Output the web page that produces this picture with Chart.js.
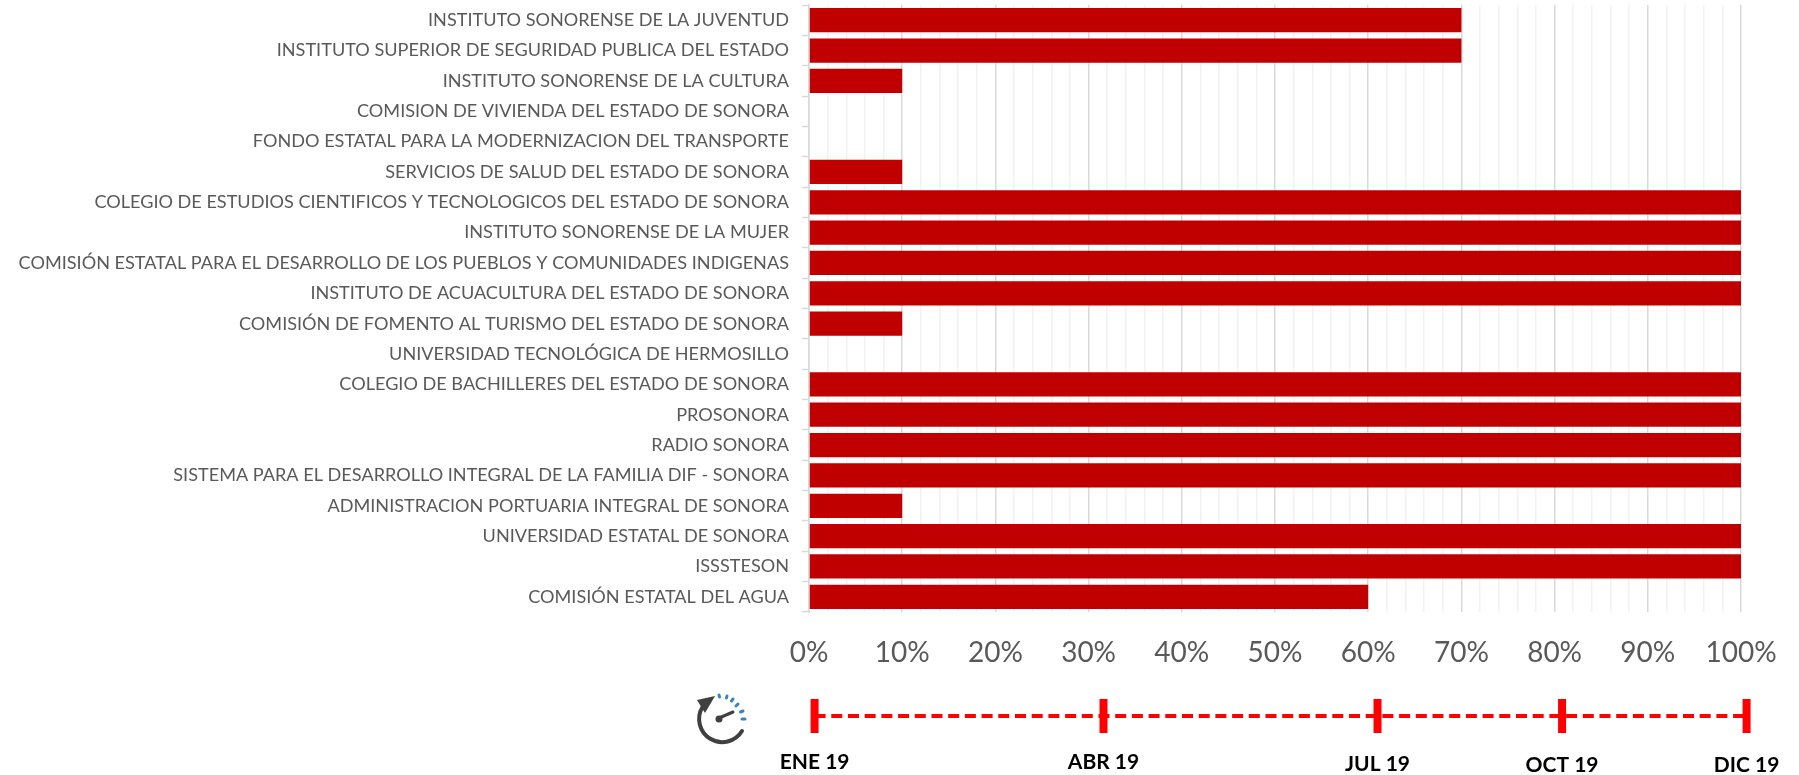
<!DOCTYPE html>
<html><head><meta charset="utf-8">
<style>
html,body{margin:0;padding:0;background:#fff;width:1799px;height:775px;overflow:hidden}
#wrap{position:relative;width:1799px;height:775px}
canvas{position:absolute;left:0;top:0}
svg{position:absolute;left:692px;top:686px}
</style>
<script src="https://cdn.jsdelivr.net/npm/chart.js@4"></script>
</head><body>
<div id="wrap">
<canvas id="main" width="1799" height="775"></canvas>
<canvas id="timeline" width="1799" height="775"></canvas>
<svg width="64" height="64" viewBox="0 0 64 64" role="img" aria-label="icono de tiempo">
  <path d="M10.5 21 A23 23 0 1 0 50 45" fill="none" stroke="#404040" stroke-width="4" stroke-linecap="round"/>
  <path d="M5 14 L23 10 L13 27 Z" fill="#404040"/>
  <g stroke="#3b82c4" stroke-width="3" stroke-linecap="round" fill="none">
    <path d="M27 9 L27.5 11"/><path d="M35 10 L34.5 12"/><path d="M41 13 L39.5 15"/><path d="M46 18 L44 20"/><path d="M51 25 L48.5 26"/><path d="M53 33 L50 33"/>
  </g>
  <path d="M27 32 L41 26" stroke="#404040" stroke-width="3" stroke-linecap="round"/>
  <circle cx="27" cy="33" r="3.5" fill="#404040"/>
</svg>
</div>
<script>
const categories = [
  "INSTITUTO SONORENSE DE LA JUVENTUD",
  "INSTITUTO SUPERIOR DE SEGURIDAD PUBLICA DEL ESTADO",
  "INSTITUTO SONORENSE DE LA CULTURA",
  "COMISION DE VIVIENDA DEL ESTADO DE SONORA",
  "FONDO ESTATAL PARA LA MODERNIZACION DEL TRANSPORTE",
  "SERVICIOS DE SALUD DEL ESTADO DE SONORA",
  "COLEGIO DE ESTUDIOS CIENTIFICOS Y TECNOLOGICOS DEL ESTADO DE SONORA",
  "INSTITUTO SONORENSE DE LA MUJER",
  "COMISIÓN ESTATAL PARA EL DESARROLLO DE LOS PUEBLOS Y COMUNIDADES INDIGENAS",
  "INSTITUTO DE ACUACULTURA DEL ESTADO DE SONORA",
  "COMISIÓN DE FOMENTO AL TURISMO DEL ESTADO DE SONORA",
  "UNIVERSIDAD TECNOLÓGICA DE HERMOSILLO",
  "COLEGIO DE BACHILLERES DEL ESTADO DE SONORA",
  "PROSONORA",
  "RADIO SONORA",
  "SISTEMA PARA EL DESARROLLO INTEGRAL DE LA FAMILIA DIF - SONORA",
  "ADMINISTRACION PORTUARIA INTEGRAL DE SONORA",
  "UNIVERSIDAD ESTATAL DE SONORA",
  "ISSSTESON",
  "COMISIÓN ESTATAL DEL AGUA"
];
const avance = [70,70,10,0,0,10,100,100,100,100,10,0,100,100,100,100,10,100,100,60];
const timelineLabels = ["ENE 19","ABR 19","JUL 19","OCT 19","DIC 19"];
const timelinePositions = [0.6,31.6,61,80.8,100.6];
const timelineLabelOffsets = [0,0,2,3,3];

Chart.defaults.animation = false;
Chart.defaults.responsive = false;
Chart.defaults.font.family = "Lato";

new Chart(document.getElementById('main'), {
  type: 'bar',
  data: { labels: categories, datasets: [{ data: avance, backgroundColor: '#C00000',
    barPercentage: 0.8, categoryPercentage: 1 }] },
  options: {
    indexAxis: 'y',
    layout: { padding: { top: 5, right: 58, left: 0, bottom: 0 } },
    plugins: { legend: { display: false }, tooltip: { enabled: false } },
    scales: {
      x: {
        min: 0, max: 100,
        afterFit: s => { s.height = 163; s.paddingLeft = 0; s.paddingRight = 0; },
        afterBuildTicks: s => {
          const t = [];
          for (let v = 0; v <= 100; v += 2) t.push({ value: v });
          s.ticks = t;
        },
        grid: {
          drawTicks: false,
          color: c => (c.tick && c.tick.value % 10 === 0) ? '#D9D9D9' : '#F2F2F2',
          lineWidth: 1.5
        },
        border: { display: false },
        ticks: {
          autoSkip: false, maxRotation: 0, padding: 24,
          color: '#595959', font: { size: 28 },
          callback: v => v % 10 === 0 ? v + '%' : ''
        }
      },
      y: {
        afterFit: s => { s.width = 809; s.paddingTop = 0; s.paddingBottom = 0; },
        grid: { offset: true, drawOnChartArea: false, drawTicks: true, tickLength: 7, tickColor: '#D9D9D9', tickWidth: 1.5 },
        border: { color: '#D9D9D9', width: 1.5 },
        ticks: { autoSkip: false, padding: 13, color: '#595959', font: { size: 18.1 } }
      }
    }
  }
});

const timelineText = {
  id: 'timelineText',
  afterDatasetsDraw(chart) {
    const { ctx, scales } = chart;
    ctx.save();
    ctx.font = "bold 21px Lato";
    ctx.fillStyle = '#000';
    ctx.textAlign = 'center';
    ctx.textBaseline = 'middle';
    timelineLabels.forEach((t, i) => {
      ctx.fillText(t, scales.x.getPixelForValue(timelinePositions[i]), 762 + timelineLabelOffsets[i]);
    });
    ctx.restore();
  }
};

new Chart(document.getElementById('timeline'), {
  type: 'scatter',
  data: { datasets: [{
    data: timelinePositions.map(x => ({ x, y: 0.5 })),
    showLine: true, clip: false,
    borderColor: '#FF0000', borderWidth: 4, borderDash: [11, 5.7],
    pointStyle: 'line', rotation: 90, pointRadius: 17,
    pointBorderColor: '#FF0000', pointBorderWidth: 8
  }] },
  options: {
    layout: { padding: { left: 809, right: 58, top: 699, bottom: 42 } },
    plugins: { legend: { display: false }, tooltip: { enabled: false } },
    scales: {
      x: { display: false, min: 0, max: 100 },
      y: { display: false, min: 0, max: 1 }
    }
  },
  plugins: [timelineText]
});
</script>
</body></html>
